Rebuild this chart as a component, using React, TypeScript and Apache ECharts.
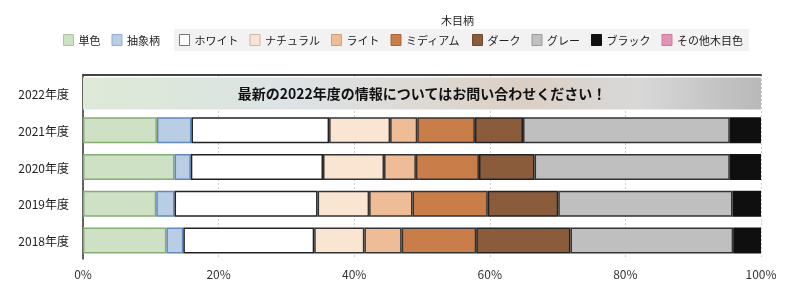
import React, { useEffect, useRef } from "react";
import * as echarts from "echarts";

const categories = ["2018年度", "2019年度", "2020年度", "2021年度", "2022年度"];
const seriesNames = ["単色", "抽象柄", "ホワイト", "ナチュラル", "ライト", "ミディアム", "ダーク", "グレー", "ブラック", "その他木目色"];
const plain = [12.3, 10.8, 13.5, 10.9, null];
const abstractPattern = [2.5, 2.7, 2.4, 5.1, null];
const white = [19.3, 21.1, 19.5, 20.3, null];
const natural = [7.4, 7.6, 9.0, 9.0, null];
const light = [5.5, 6.4, 4.7, 4.0, null];
const medium = [11.0, 11.1, 9.3, 8.5, null];
const dark = [13.9, 10.4, 8.2, 7.1, null];
const gray = [24.0, 25.7, 28.8, 30.5, null];
const black = [4.1, 4.2, 4.6, 4.6, null];
const otherWood = [null, null, null, null, null];
const bannerValues = [null, null, null, null, 100];
const bannerText = "最新の2022年度の情報についてはお問い合わせください！";
const xTicks = { min: 0, max: 100, interval: 20 };

const allData = [plain, abstractPattern, white, natural, light, medium, dark, gray, black, otherWood];
const fills = ["#cfe1c4", "#b9cde4", "#ffffff", "#fae5d3", "#eebd98", "#c97d48", "#8b5c3b", "#bfbfbf", "#0f0f0f", "#e394b7"];
const borders = ["#86ad72", "#5f88bd", "#222222", "#333333", "#333333", "#333333", "#222222", "#333333", "#111111", "#b86a8c"];
const legendBorders = ["#a9c79b", "#8eaed3", "#777777", "#c9b8a8", "#d49c74", "#a9653a", "#6e4a30", "#9a9a9a", "#111111", "#c97aa0"];

const FONT = "'Noto Sans CJK JP', 'Noto Sans', sans-serif";

export default function App() {
  const ref = useRef<HTMLDivElement>(null);
  useEffect(() => {
    if (!ref.current) return;
    const chart = echarts.init(ref.current, undefined, { renderer: "svg" });
    const dataSeries = seriesNames.map((name, i) => ({
      name,
      type: "bar",
      stack: "total",
      xAxisIndex: 0,
      yAxisIndex: 0,
      barWidth: 26,
      data: allData[i],
      itemStyle: { color: fills[i], borderColor: borders[i], borderWidth: 1.5 },
      emphasis: { disabled: true },
    }));
    const legendData = seriesNames.map((name, i) => ({
      name,
      icon: "rect",
      itemStyle: { color: fills[i], borderColor: legendBorders[i], borderWidth: 1 },
    }));
    const banner = {
      name: "banner",
      type: "bar",
      xAxisIndex: 0,
      yAxisIndex: 1,
      barWidth: 32,
      data: bannerValues,
      itemStyle: {
        color: new echarts.graphic.LinearGradient(0, 0, 1, 0, [
          { offset: 0, color: "#dfe9d8" },
          { offset: 0.15, color: "#dce6dc" },
          { offset: 0.3, color: "#dde3e6" },
          { offset: 0.5, color: "#ddd9d4" },
          { offset: 0.65, color: "#dbcfc5" },
          { offset: 0.82, color: "#d8d8d8" },
          { offset: 1, color: "#b9b9b9" },
        ]),
      },
      label: {
        show: true,
        position: "inside",
        formatter: bannerText,
        fontSize: 14,
        fontWeight: "bold",
        color: "#111",
        fontFamily: FONT,
      },
      emphasis: { disabled: true },
    };
    const legendCommon = {
      top: 29,
      itemWidth: 10,
      itemHeight: 11,
      itemGap: 11,
      textStyle: { fontSize: 11, color: "#222", fontFamily: FONT },
      selectedMode: false,
    };
    chart.setOption({
      animation: false,
      textStyle: { fontFamily: FONT },
      grid: { left: 83, right: 39, top: 75, bottom: 29, containLabel: false },
      graphic: [
        {
          type: "text",
          left: 441,
          top: 14,
          style: { text: "木目柄", fontSize: 11, fill: "#222", fontFamily: FONT },
        },
      ],
      legend: [
        { ...legendCommon, data: legendData.slice(0, 2), left: 58, padding: 5 },
        {
          ...legendCommon,
          data: legendData.slice(2),
          left: 174,
          padding: [5, 6, 5, 5],
          backgroundColor: "#f2f2f2",
        },
      ],
      xAxis: [
        {
          type: "value",
          position: "bottom",
          ...xTicks,
          axisLine: { show: false },
          axisTick: { show: false },
          axisLabel: { formatter: "{value}%", fontSize: 12, color: "#333", margin: 8 },
          splitLine: { show: true, lineStyle: { type: [2, 2], color: "#cfcfcf", width: 1 } },
        },
        {
          type: "value",
          position: "top",
          ...xTicks,
          axisLine: { show: true, onZero: false, lineStyle: { color: "#444", width: 2 } },
          axisTick: { show: false },
          axisLabel: { show: false },
          splitLine: { show: false },
        },
      ],
      yAxis: [
        {
          type: "category",
          data: categories,
          axisLine: { show: true, lineStyle: { color: "#333", width: 1.5 } },
          axisTick: { show: false },
          axisLabel: { fontSize: 12, color: "#222", margin: 14 },
        },
        {
          type: "category",
          data: categories,
          show: false,
        },
      ],
      series: [...dataSeries, banner],
    });
    return () => chart.dispose();
  }, []);
  return <div ref={ref} style={{ position: "fixed", left: 0, top: 0, width: 800, height: 288 }} />;
}
